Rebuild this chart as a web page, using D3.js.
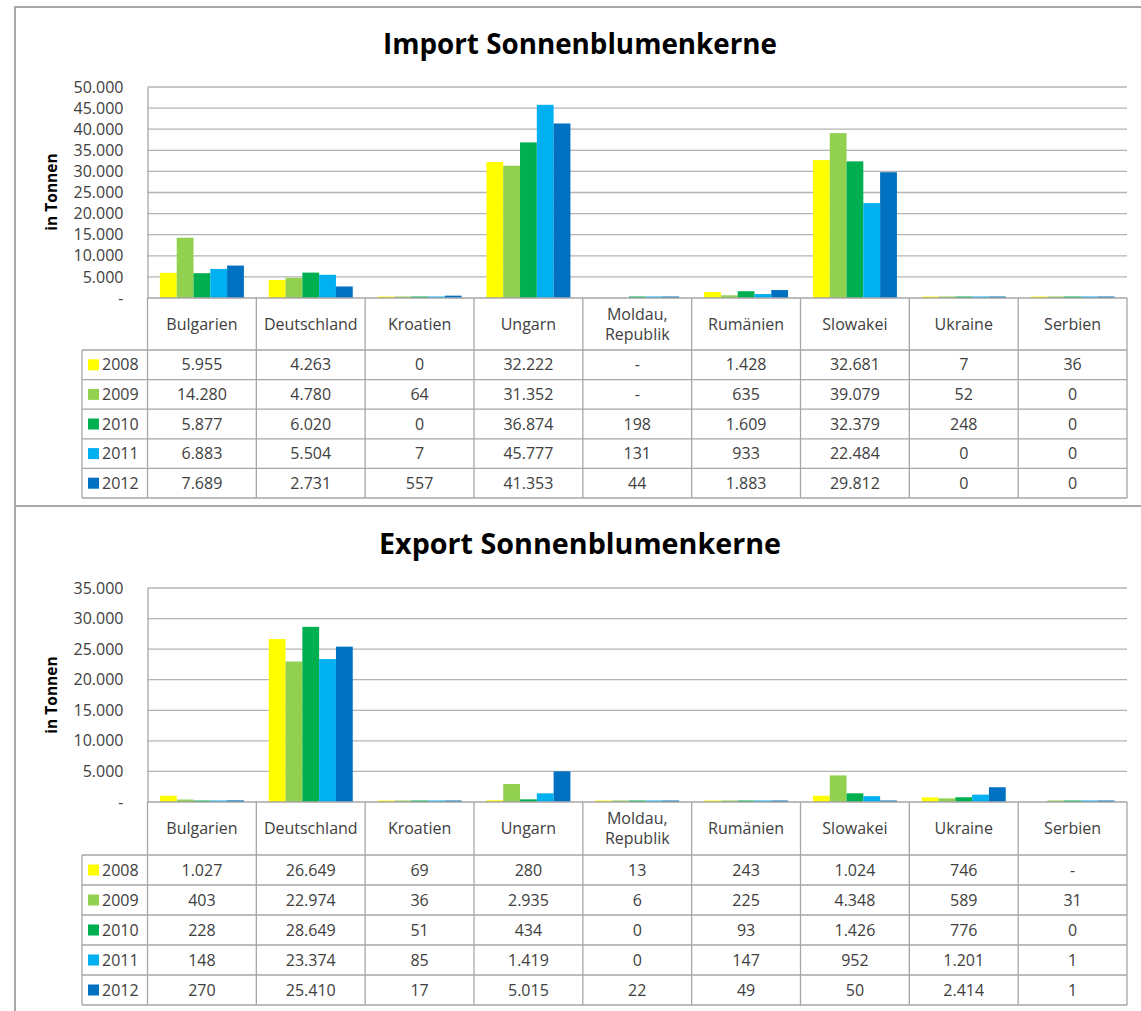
<!DOCTYPE html>
<html>
<head>
<meta charset="UTF-8">
<title>Sonnenblumenkerne</title>
<script src="https://d3js.org/d3.v7.min.js"></script>
<style>
  body { margin: 0; background: #fff; }
  svg text { font-family: "Open Sans", sans-serif; }
</style>
</head>
<body>
<div id="chart"></div>
<script>
// categories and series
var countries = ["Bulgarien", "Deutschland", "Kroatien", "Ungarn", "Moldau, Republik",
                 "Rumänien", "Slowakei", "Ukraine", "Serbien"];
var years = ["2008", "2009", "2010", "2011", "2012"];
var yearColors = ["#ffff00", "#92d050", "#00b050", "#00b0f0", "#0070c0"];

// Import (t), null = "-"
var import2008 = [5955, 4263, 0, 32222, null, 1428, 32681, 7, 36];
var import2009 = [14280, 4780, 64, 31352, null, 635, 39079, 52, 0];
var import2010 = [5877, 6020, 0, 36874, 198, 1609, 32379, 248, 0];
var import2011 = [6883, 5504, 7, 45777, 131, 933, 22484, 0, 0];
var import2012 = [7689, 2731, 557, 41353, 44, 1883, 29812, 0, 0];

// Export (t)
var export2008 = [1027, 26649, 69, 280, 13, 243, 1024, 746, null];
var export2009 = [403, 22974, 36, 2935, 6, 225, 4348, 589, 31];
var export2010 = [228, 28649, 51, 434, 0, 93, 1426, 776, 0];
var export2011 = [148, 23374, 85, 1419, 0, 147, 952, 1201, 1];
var export2012 = [270, 25410, 17, 5015, 22, 49, 50, 2414, 1];

var importTicks = [0, 5000, 10000, 15000, 20000, 25000, 30000, 35000, 40000, 45000, 50000];
var exportTicks = [0, 5000, 10000, 15000, 20000, 25000, 30000, 35000];

var de = d3.formatLocale({decimal: ",", thousands: ".", grouping: [3], currency: ["", " €"]});
var fmt = de.format(",d");
function fmtVal(v) { return v == null ? "-" : fmt(v); }
function fmtTick(v) { return v === 0 ? "-" : fmt(v); }

var svg = d3.select("#chart").append("svg")
    .attr("width", 1141)
    .attr("height", 1011);

function drawPanel(opt) {
  var g = svg.append("g");
  var series = opt.series;

  // panel frame
  g.append("rect")
    .attr("x", 15).attr("y", opt.top)
    .attr("width", 1150).attr("height", opt.height)
    .attr("fill", "none").attr("stroke", "#a8a8a8").attr("stroke-width", 2);

  g.append("text")
    .attr("x", 580).attr("y", opt.titleY)
    .attr("text-anchor", "middle")
    .attr("font-size", 29).attr("font-weight", "bold")
    .attr("fill", "#000")
    .attr("textLength", opt.titleW).attr("lengthAdjust", "spacingAndGlyphs")
    .text(opt.title);

  var x = d3.scaleBand().domain(countries).range([147.5, 1127]).padding(0);
  var xs = d3.scaleBand().domain(years).range([0, x.bandwidth()])
      .paddingInner(0).paddingOuter(0.74);
  var y = d3.scaleLinear().domain([0, opt.max]).range([opt.y0, opt.yTop]);

  // gridlines
  g.append("g").selectAll("line").data(opt.ticks.slice(1)).join("line")
    .attr("x1", 147.5).attr("x2", 1127)
    .attr("y1", function(d) { return y(d); }).attr("y2", function(d) { return y(d); })
    .attr("stroke", "#b4b4b4").attr("stroke-width", 1.3);

  // y axis
  var ax = g.append("g")
    .attr("transform", "translate(147.5,0)")
    .call(d3.axisLeft(y).tickValues(opt.ticks).tickFormat(fmtTick).tickSize(0).tickPadding(24));
  ax.select(".domain").attr("stroke", "#a6a6a6").attr("stroke-width", 1.3);
  ax.selectAll("text").attr("font-size", 16).attr("fill", "#404040")
    .attr("font-family", "Open Sans, sans-serif");

  g.append("text")
    .attr("transform", "translate(57," + opt.labelY + ") rotate(-90)")
    .attr("text-anchor", "middle")
    .attr("font-size", 15.5).attr("font-weight", "bold").attr("fill", "#000")
    .text("in Tonnen");

  // bars
  years.forEach(function(yr, i) {
    var vals = series[i];
    g.append("g").selectAll("rect")
      .data(countries.map(function(c, j) { return {c: c, v: vals[j]}; })
                     .filter(function(d) { return d.v != null; }))
      .join("rect")
      .attr("x", function(d) { return x(d.c) + xs(yr); })
      .attr("width", xs.bandwidth())
      .attr("y", function(d) { return Math.min(y(d.v), opt.y0 - 1.5); })
      .attr("height", function(d) { return Math.max(opt.y0 - y(d.v), 1.5); })
      .attr("fill", yearColors[i]);
  });

  // data table
  var rowH = opt.rowH;
  var hdrBottom = opt.hdrBottom;
  var tableBottom = hdrBottom + rowH * years.length;
  var lineCol = "#a6a6a6";
  var t = g.append("g");

  // zero / top line
  t.append("line").attr("x1", 147.5).attr("x2", 1127)
    .attr("y1", opt.y0).attr("y2", opt.y0)
    .attr("stroke", lineCol).attr("stroke-width", 1.3);

  // horizontal row lines
  t.selectAll("line.row").data(d3.range(years.length + 1)).join("line")
    .attr("class", "row")
    .attr("x1", 82).attr("x2", 1127)
    .attr("y1", function(k) { return hdrBottom + k * rowH; })
    .attr("y2", function(k) { return hdrBottom + k * rowH; })
    .attr("stroke", lineCol).attr("stroke-width", 1.3);

  // vertical column lines
  var colEdges = countries.map(function(c) { return x(c); }).concat([1127]);
  t.selectAll("line.col").data(colEdges).join("line")
    .attr("class", "col")
    .attr("x1", function(d) { return d; }).attr("x2", function(d) { return d; })
    .attr("y1", opt.y0).attr("y2", tableBottom)
    .attr("stroke", lineCol).attr("stroke-width", 1.3);
  t.append("line").attr("x1", 82).attr("x2", 82)
    .attr("y1", hdrBottom).attr("y2", tableBottom)
    .attr("stroke", lineCol).attr("stroke-width", 1.3);

  // header labels
  countries.forEach(function(c) {
    var parts = c.indexOf(",") > 0 ? [c.split(" ")[0], c.split(" ")[1]] : [c];
    var mid = (opt.y0 + hdrBottom) / 2;
    var txt = t.append("text")
      .attr("x", x(c) + x.bandwidth() / 2)
      .attr("text-anchor", "middle")
      .attr("font-size", 16).attr("fill", "#404040");
    parts.forEach(function(p, k) {
      txt.append("tspan")
        .attr("x", x(c) + x.bandwidth() / 2)
        .attr("y", mid + 5.5 + (k - (parts.length - 1) / 2) * 20)
        .text(p);
    });
  });

  // rows
  years.forEach(function(yr, i) {
    var cy = hdrBottom + i * rowH + rowH / 2;
    t.append("rect")
      .attr("x", 88).attr("y", cy - 5.5)
      .attr("width", 11).attr("height", 11)
      .attr("fill", yearColors[i]);
    t.append("text")
      .attr("x", 102).attr("y", cy + 5.5)
      .attr("font-size", 16).attr("fill", "#404040")
      .text(yr);
    t.append("g").selectAll("text").data(countries).join("text")
      .attr("x", function(c) { return x(c) + x.bandwidth() / 2; })
      .attr("y", cy + 5.5)
      .attr("text-anchor", "middle")
      .attr("font-size", 16).attr("fill", "#404040")
      .text(function(c, j) { return fmtVal(series[i][j]); });
  });
}

drawPanel({
  title: "Import Sonnenblumenkerne", titleY: 54, titleW: 394,
  top: 7, height: 499,
  series: [import2008, import2009, import2010, import2011, import2012],
  ticks: importTicks, max: 50000, y0: 298, yTop: 87, labelY: 192,
  hdrBottom: 350, rowH: 29.6
});

drawPanel({
  title: "Export Sonnenblumenkerne", titleY: 554, titleW: 402,
  top: 506, height: 520,
  series: [export2008, export2009, export2010, export2011, export2012],
  ticks: exportTicks, max: 35000, y0: 802, yTop: 588, labelY: 695,
  hdrBottom: 855, rowH: 30
});
</script>
</body>
</html>
